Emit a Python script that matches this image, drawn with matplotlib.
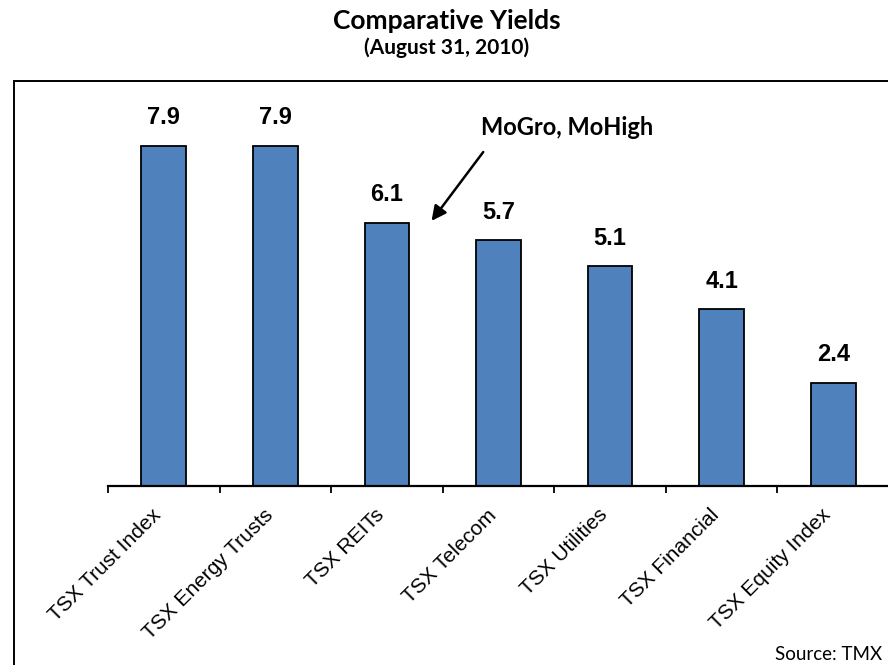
import matplotlib.pyplot as plt
from matplotlib.patches import Rectangle
from matplotlib.transforms import ScaledTranslation
import numpy as np

# data
categories = ["TSX Trust Index", "TSX Energy Trusts", "TSX REITs", "TSX Telecom",
              "TSX Utilities", "TSX Financial", "TSX Equity Index"]
yields = [7.9, 7.9, 6.1, 5.7, 5.1, 4.1, 2.4]
value_labels = ["7.9", "7.9", "6.1", "5.7", "5.1", "4.1", "2.4"]

fig = plt.figure(figsize=(8.88, 6.65), dpi=100)
ax = fig.add_axes([108/888, 1 - 486/665, 781/888, 387.9/665])

x = np.arange(len(categories))
ax.bar(x, yields, width=0.4, color="#4F81BD", edgecolor="black", linewidth=1.3, zorder=2)

for xi, yi, lab in zip(x, yields, value_labels):
    ax.annotate(lab, (xi, yi), xytext=(0, 12), textcoords="offset points",
                ha="center", va="bottom", fontsize=17, fontweight="bold",
                family="Liberation Sans")

ax.set_xlim(-0.5, len(categories) - 0.5)
ax.set_ylim(0, 9)

for s in ["left", "right", "top"]:
    ax.spines[s].set_visible(False)
ax.spines["bottom"].set_linewidth(1.6)
ax.set_yticks([])

ax.set_xticks(x)
ax.set_xticklabels(categories, rotation=45, ha="right", va="top",
                   rotation_mode="anchor", fontsize=15, family="Liberation Sans")
ax.tick_params(axis="x", which="major", length=0, pad=14)
shift = ScaledTranslation(-12/100, 0, fig.dpi_scale_trans)
for lbl in ax.get_xticklabels():
    lbl.set_transform(lbl.get_transform() + shift)
ax.set_xticks(np.arange(-0.5, len(categories)), minor=True)
ax.tick_params(axis="x", which="minor", length=5, width=1.3, direction="out")

# annotation arrow
ax.annotate("", xy=(2.385, 6.1), xytext=(2.878, 7.8),
            arrowprops=dict(arrowstyle="-|>", lw=1.8, mutation_scale=22, color="black"))
ax.text(2.842, 8.31, "MoGro, MoHigh", ha="left", va="center", fontsize=17,
        fontweight="bold", family="Lato")

# titles
fig.text(447/888, 1 - 21/665, "Comparative Yields", ha="center", va="center",
         fontsize=19, fontweight="bold", family="Lato")
fig.text(447/888, 1 - 48/665, "(August 31, 2010)", ha="center", va="center",
         fontsize=15, fontweight="bold", family="Lato")

fig.text(882/888, 1 - 655/665, "Source: TMX", ha="right", va="center",
         fontsize=13.5, family="Lato")

# chart border
fig.add_artist(Rectangle((14/888, -0.02), 1, 1 - 81/665 + 0.02, fill=False,
                         linewidth=1.4, edgecolor="black", transform=fig.transFigure))

fig.savefig("out.png", dpi=100)
